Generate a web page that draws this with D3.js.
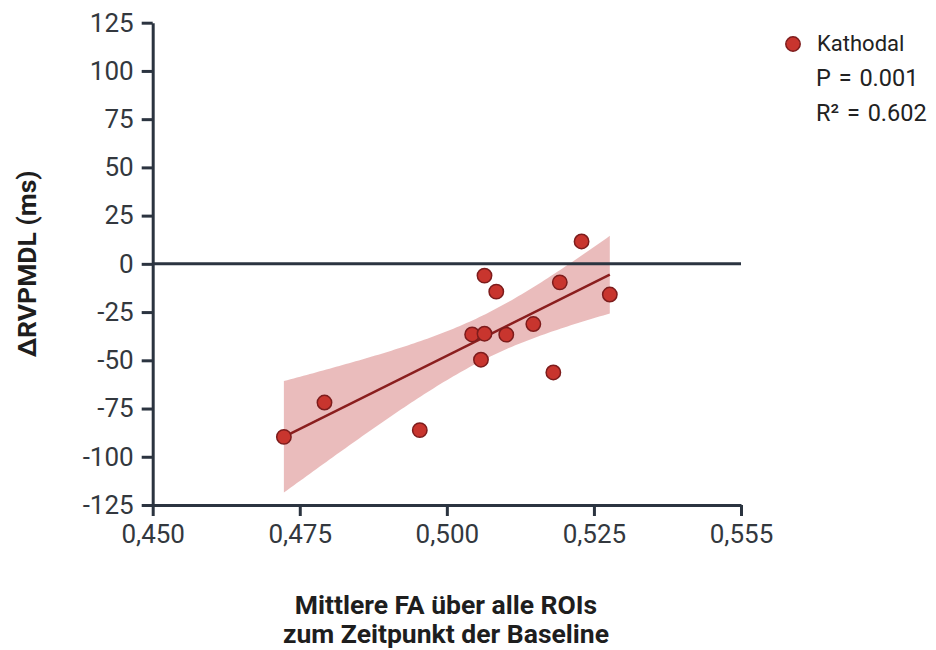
<!DOCTYPE html>
<html>
<head>
<meta charset="utf-8">
<script src="https://cdn.jsdelivr.net/npm/d3@7"></script>
<style>
  html, body { margin: 0; padding: 0; background: #fff; }
  svg { display: block; font-family: Roboto, "Noto Sans", sans-serif; }
</style>
</head>
<body>
<svg id="chart" width="936" height="650"></svg>
<script>
// ---- data ----
const fa = [0.4723, 0.4792, 0.4954, 0.5043, 0.5064, 0.5058, 0.5064, 0.5084, 0.5101, 0.5147, 0.5181, 0.5192, 0.5229, 0.5277];
const dRVPMDL = [-89.7, -71.9, -86.2, -36.6, -36.2, -49.7, -6.1, -14.4, -36.7, -31.2, -56.3, -9.6, 11.6, -15.9];
const xTickValues = [0.450, 0.475, 0.500, 0.525, 0.550];
const xTickLabels = ["0,450", "0,475", "0,500", "0,525", "0,555"];
const yTickValues = [-125, -100, -75, -50, -25, 0, 25, 50, 75, 100, 125];
const yTickLabels = ["-125", "-100", "-75", "-50", "-25", "0", "25", "50", "75", "100", "125"];
const legendLabel = "Kathodal";
const statLabels = ["P = 0.001", "R\u00B2 = 0.602"];
const tCrit = 2.179; // t(0.975, df = 12)

const svg = d3.select("#chart");
const axisColor = "#2b3440";

const x = d3.scaleLinear().domain([0.45, 0.55]).range([152.7, 741]);
const y = d3.scaleLinear().domain([-125, 125]).range([505, 22.7]);

// ---- regression + 95% CI ----
const n = fa.length;
const mx = d3.mean(fa), my = d3.mean(dRVPMDL);
let sxx = 0, sxy = 0;
for (let i = 0; i < n; i++) { sxx += (fa[i] - mx) ** 2; sxy += (fa[i] - mx) * (dRVPMDL[i] - my); }
const slope = sxy / sxx, intercept = my - slope * mx;
let sse = 0;
for (let i = 0; i < n; i++) { sse += (dRVPMDL[i] - (intercept + slope * fa[i])) ** 2; }
const s = Math.sqrt(sse / (n - 2));
const x0 = d3.min(fa), x1 = d3.max(fa);
const bandX = d3.range(0, 101).map(k => x0 + (x1 - x0) * k / 100);
const band = bandX.map(v => {
  const yh = intercept + slope * v;
  const h = tCrit * s * Math.sqrt(1 / n + (v - mx) ** 2 / sxx);
  return { v, lo: yh - h, hi: yh + h };
});

svg.append("path")
  .datum(band)
  .attr("fill", "#e8b5b5")
  .attr("fill-opacity", 0.9)
  .attr("d", d3.area().x(d => x(d.v)).y0(d => y(d.lo)).y1(d => y(d.hi)));

// ---- axes ----
const yAxis = svg.append("g")
  .attr("transform", `translate(${x(0.45)},0)`)
  .call(d3.axisLeft(y).tickValues(yTickValues).tickSize(11).tickPadding(8).tickSizeOuter(0)
    .tickFormat((d, i) => yTickLabels[i]));
const xAxis = svg.append("g")
  .attr("transform", `translate(0,${y(-125)})`)
  .call(d3.axisBottom(x).tickValues(xTickValues).tickSize(11).tickPadding(9).tickSizeOuter(0)
    .tickFormat((d, i) => xTickLabels[i]));

[yAxis, xAxis].forEach(g => {
  g.selectAll("path.domain").attr("stroke", axisColor).attr("stroke-width", 3);
  g.selectAll(".tick line").attr("stroke", axisColor).attr("stroke-width", 3);
  g.selectAll(".tick text").attr("fill", "#33383e").attr("font-size", 26).attr("font-family", "Roboto");
});

// zero line
svg.append("line")
  .attr("x1", x(0.45)).attr("x2", x(0.55))
  .attr("y1", y(0)).attr("y2", y(0))
  .attr("stroke", axisColor).attr("stroke-width", 3);

// regression line
svg.append("line")
  .attr("x1", x(x0)).attr("x2", x(x1))
  .attr("y1", y(intercept + slope * x0)).attr("y2", y(intercept + slope * x1))
  .attr("stroke", "#8a1e1e").attr("stroke-width", 2.5);

// points
svg.append("g").selectAll("circle")
  .data(fa.map((v, i) => [v, dRVPMDL[i]]))
  .join("circle")
  .attr("cx", d => x(d[0])).attr("cy", d => y(d[1]))
  .attr("r", 7.2)
  .attr("fill", "#c8352e").attr("stroke", "#7d1c1c").attr("stroke-width", 1.5);

// axis titles
svg.append("text")
  .attr("transform", `translate(36,${(y(125) + y(-125)) / 2}) rotate(-90)`)
  .attr("text-anchor", "middle")
  .attr("font-size", 26.5).attr("font-weight", 700).attr("fill", "#1e1e1e")
  .text("\u0394RVPMDL (ms)");

const xt = svg.append("text")
  .attr("text-anchor", "middle")
  .attr("font-size", 26.5).attr("font-weight", 700).attr("fill", "#1e1e1e");
xt.append("tspan").attr("x", 446).attr("y", 614).text("Mittlere FA über alle ROIs");
xt.append("tspan").attr("x", 446).attr("y", 643).text("zum Zeitpunkt der Baseline");

// legend
svg.append("circle")
  .attr("cx", 793).attr("cy", 44).attr("r", 7.2)
  .attr("fill", "#c8352e").attr("stroke", "#7d1c1c").attr("stroke-width", 1.5);
svg.append("text").attr("x", 817).attr("y", 51).attr("font-size", 22).attr("fill", "#222").text(legendLabel);
statLabels.forEach((t, i) => {
  svg.append("text").attr("x", 816).attr("y", 86 + i * 35).attr("font-size", 23.5)
    .attr("word-spacing", 2).attr("fill", "#222").text(t);
});
</script>
</body>
</html>
